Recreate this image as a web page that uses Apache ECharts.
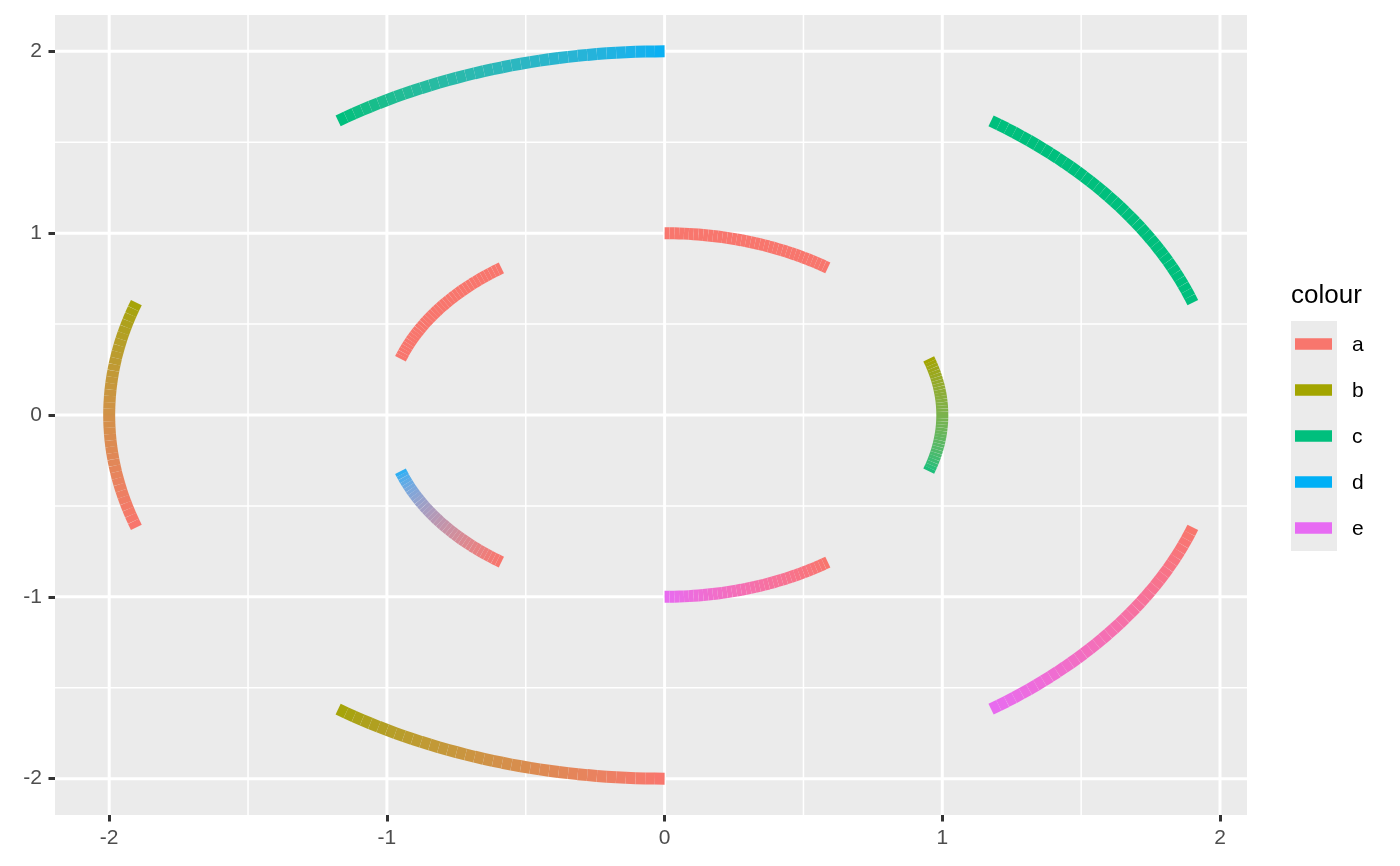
<!DOCTYPE html>
<html><head><meta charset="utf-8">
<script src="https://cdn.jsdelivr.net/npm/echarts@6/dist/echarts.min.js"></script>
<style>html,body{margin:0;padding:0;background:#fff}#c{width:1400px;height:866px}</style>
</head><body><div id="c"></div>
<script>
// ---- data ----
const categories = ['a', 'b', 'c', 'd', 'e'];
const categoryColours = ['#F8766D', '#A3A500', '#00BF7D', '#00B0F6', '#E76BF3'];
// arcs: centre (0,0); angles in degrees, clockwise from 12 o'clock (ggforce convention)
const arcRadius = [1, 2, 1, 2, 1, 2, 1, 2, 1, 2];
const arcStart = [0, 36, 72, 108, 144, 180, 216, 252, 288, 324];
const arcEnd = [36, 72, 108, 144, 180, 216, 252, 288, 324, 360];
const arcStartColour = ['a', 'c', 'b', 'a', 'a', 'a', 'a', 'a', 'a', 'c'];
const arcEndColour = ['a', 'c', 'c', 'e', 'e', 'b', 'd', 'b', 'a', 'd'];
const xBreaks = [-2, -1, 0, 1, 2];
const xMinorBreaks = [-1.5, -0.5, 0.5, 1.5];
const yBreaks = [-2, -1, 0, 1, 2];
const yMinorBreaks = [-1.5, -0.5, 0.5, 1.5];
const xLimits = [-2.1951, 2.0972];
const yLimits = [-2.2, 2.2];

// ---- helpers ----
const FONT = 'Liberation Sans, Arial, Helvetica, sans-serif';
function hexToRgb(h) { h = h.replace('#', ''); return [0, 2, 4].map(k => parseInt(h.substr(k, 2), 16)); }
function colourOf(cat) { return categoryColours[categories.indexOf(cat)]; }
// sRGB <-> CIE Lab (D65) for colour interpolation
const WP = [0.95047, 1.0, 1.08883];
function toLin(c) { c /= 255; return c <= 0.04045 ? c / 12.92 : Math.pow((c + 0.055) / 1.055, 2.4); }
function fromLin(c) { const v = c <= 0.0031308 ? 12.92 * c : 1.055 * Math.pow(c, 1 / 2.4) - 0.055; return Math.max(0, Math.min(255, Math.round(v * 255))); }
function rgbToLab(rgb) {
  const [r, g, b] = rgb.map(toLin);
  const X = (0.4124 * r + 0.3576 * g + 0.1805 * b) / WP[0];
  const Y = (0.2126 * r + 0.7152 * g + 0.0722 * b) / WP[1];
  const Z = (0.0193 * r + 0.1192 * g + 0.9505 * b) / WP[2];
  const f = t => t > 0.008856 ? Math.cbrt(t) : 7.787 * t + 16 / 116;
  const fx = f(X), fy = f(Y), fz = f(Z);
  return [116 * fy - 16, 500 * (fx - fy), 200 * (fy - fz)];
}
function labToRgb(lab) {
  const fy = (lab[0] + 16) / 116, fx = fy + lab[1] / 500, fz = fy - lab[2] / 200;
  const fi = t => t * t * t > 0.008856 ? t * t * t : (t - 16 / 116) / 7.787;
  const X = fi(fx) * WP[0], Y = fi(fy) * WP[1], Z = fi(fz) * WP[2];
  const r = 3.2406 * X - 1.5372 * Y - 0.4986 * Z;
  const g = -0.9689 * X + 1.8758 * Y + 0.0415 * Z;
  const b = 0.0557 * X - 0.2040 * Y + 1.0570 * Z;
  return [r, g, b].map(fromLin);
}
function mix(l0, l1, t) {
  const lab = l0.map((v, k) => v + (l1[k] - v) * t);
  return 'rgb(' + labToRgb(lab).join(',') + ')';
}

const gridData = [];
xBreaks.forEach(v => gridData.push([v, 1, 1]));
xMinorBreaks.forEach(v => gridData.push([v, 1, 0]));
yBreaks.forEach(v => gridData.push([v, 0, 1]));
yMinorBreaks.forEach(v => gridData.push([v, 0, 0]));

function gridRender(params, api) {
  const cs = params.coordSys;
  const v = api.value(0), vertical = api.value(1) === 1, major = api.value(2) === 1;
  const w = major ? 3 : 1.5;
  if (vertical) {
    const x = api.coord([v, 0])[0];
    return { type: 'line', shape: { x1: x, y1: cs.y, x2: x, y2: cs.y + cs.height }, style: { stroke: '#FFFFFF', lineWidth: w } };
  }
  const y = api.coord([0, v])[1];
  return { type: 'line', shape: { x1: cs.x, y1: y, x2: cs.x + cs.width, y2: y }, style: { stroke: '#FFFFFF', lineWidth: w } };
}

function arcRender(params, api) {
  const i = params.dataIndex;
  const r = arcRadius[i], a0 = arcStart[i], a1 = arcEnd[i];
  const c0 = rgbToLab(hexToRgb(colourOf(arcStartColour[i])));
  const c1 = rgbToLab(hexToRgb(colourOf(arcEndColour[i])));
  const n = Math.max(2, Math.round(Math.abs(a1 - a0)));
  const pts = [];
  for (let k = 0; k <= n; k++) {
    const th = (a0 + (a1 - a0) * k / n) * Math.PI / 180;
    pts.push(api.coord([r * Math.sin(th), r * Math.cos(th)]));
  }
  const children = [];
  for (let k = 0; k < n; k++) {
    children.push({
      type: 'line',
      shape: { x1: pts[k][0], y1: pts[k][1], x2: pts[k + 1][0], y2: pts[k + 1][1] },
      style: { stroke: mix(c0, c1, k / n), lineWidth: 12, lineCap: 'butt' }
    });
  }
  return { type: 'group', children: children };
}

// legend built from categories
const legendTop = 321, keyH = 46, legendX = 1291;
const graphics = [
  { type: 'text', left: legendX, top: 295 - 12, style: { text: 'colour', font: '26px ' + FONT, fill: '#000000' } },
  { type: 'rect', shape: { x: legendX, y: legendTop, width: 46, height: keyH * categories.length }, style: { fill: '#EBEBEB' } }
];
categories.forEach((c, i) => {
  const cy = legendTop + keyH * i + keyH / 2;
  graphics.push({ type: 'rect', shape: { x: 1295, y: cy - 5.75, width: 37, height: 11.5 }, style: { fill: categoryColours[i] } });
  graphics.push({ type: 'text', x: 1352, y: cy + 1, style: { text: c, font: '21px ' + FONT, fill: '#000000', verticalAlign: 'middle', align: 'left' } });
});

const axisCommon = {
  type: 'value',
  axisLine: { show: false, onZero: false },
  splitLine: { show: false },
  axisTick: { show: true, length: 6.5, lineStyle: { color: '#333333', width: 3 } },
};

const chart = echarts.init(document.getElementById('c'), null, { renderer: 'canvas' });
chart.setOption({
  animation: false,
  backgroundColor: '#FFFFFF',
  grid: { left: 55, right: 153, top: 15, bottom: 51, show: true, backgroundColor: '#EBEBEB', borderWidth: 0, containLabel: false },
  xAxis: Object.assign({}, axisCommon, {
    position: 'bottom',
    min: xLimits[0], max: xLimits[1],
    axisTick: Object.assign({}, axisCommon.axisTick, { customValues: xBreaks }),
    axisLabel: { customValues: xBreaks, fontSize: 21, fontFamily: FONT, color: '#4D4D4D', margin: 13, formatter: v => String(v) }
  }),
  yAxis: Object.assign({}, axisCommon, {
    position: 'left',
    min: yLimits[0], max: yLimits[1],
    axisTick: Object.assign({}, axisCommon.axisTick, { customValues: yBreaks }),
    axisLabel: { customValues: yBreaks, fontSize: 21, fontFamily: FONT, color: '#4D4D4D', margin: 13, formatter: v => String(v) }
  }),
  series: [
    { type: 'custom', name: 'grid', silent: true, z: 1, renderItem: gridRender, data: gridData },
    { type: 'custom', name: 'arcs', silent: true, z: 2, renderItem: arcRender,
      data: arcRadius.map((r, i) => [r, arcStart[i], arcEnd[i]]) }
  ],
  graphic: graphics
});
</script>
</body></html>
